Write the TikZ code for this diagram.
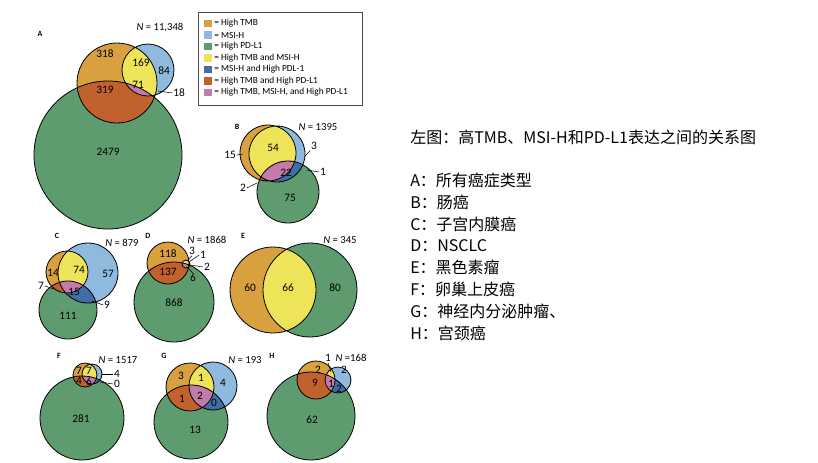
\documentclass[tikz,border=0pt]{standalone}
\usepackage{fontspec}
\setmainfont{Liberation Serif}
\newfontfamily\cjk{Noto Sans CJK SC}
\newfontfamily\lab{Carlito}
\definecolor{cT}{HTML}{D9A03F}
\definecolor{cM}{HTML}{8FB9DD}
\definecolor{cP}{HTML}{5E9C70}
\definecolor{cTM}{HTML}{EDE45A}
\definecolor{cMP}{HTML}{3E6FA6}
\definecolor{cTP}{HTML}{C0612E}
\definecolor{cTMP}{HTML}{C27BAA}
\newcommand\vennthree[9]{%
 \fill[cT] (#1,#2) circle (#3);
 \fill[cM] (#4,#5) circle (#6);
 \fill[cP] (#7,#8) circle (#9);
 \begin{scope}\clip (#4,#5) circle (#6); \fill[cMP] (#7,#8) circle (#9);\end{scope}
 \begin{scope}\clip (#1,#2) circle (#3); \fill[cTM] (#4,#5) circle (#6); \fill[cTP] (#7,#8) circle (#9);
   \clip (#4,#5) circle (#6); \fill[cTMP] (#7,#8) circle (#9);\end{scope}
 \draw[outl] (#1,#2) circle (#3) (#4,#5) circle (#6) (#7,#8) circle (#9);}
\tikzset{outl/.style={black,line width=0.6pt},
 num/.style={font=\lab\fontsize{8.5}{9}\selectfont,inner sep=0.5pt},
 pan/.style={font=\lab\bfseries\fontsize{6}{7}\selectfont,inner sep=0pt},
 nn/.style={font=\lab\fontsize{8}{9}\selectfont,inner sep=0pt},
 lead/.style={black,line width=0.4pt},
 leg/.style={font=\lab\fontsize{7}{8}\selectfont,anchor=west,inner sep=0pt},
 sw/.style={minimum width=5.5pt,minimum height=5.5pt,inner sep=0pt},
 rt/.style={font=\cjk\fontsize{12}{14}\selectfont,anchor=west,inner sep=0pt}}
\begin{document}
\begin{tikzpicture}[x=0.75pt,y=-0.75pt]
\useasboundingbox (0,0) rectangle (818,462);
\fill[white] (0,0) rectangle (818,462);
% A
\vennthree{117}{83}{40}{148}{70}{26}{108}{155}{74}
\node[pan] (pa) at (40,34) {A};
\node[nn] (na) at (160,28) {\textit{N} = 11,348};
\node[num] (a1) at (105,54) {318};
\node[num] (a2) at (141,63) {169};
\node[num] (a3) at (164,71) {84};
\node[num] (a4) at (105,90) {319};
\node[num] (a5) at (138,85) {71};
\node[num] (a6) at (179,93) {18};
\coordinate (a6e) at (158,91);
\draw[lead] (a6.west) -- (a6e);
\node[num] (a7) at (108,152) {2479};
% legend
\draw[black!70,line width=0.5pt] (198,12) rectangle (362,105);
\foreach \c/\t [count=\i] in {cT/= High TMB,cM/= MSI-H,cP/= High PD-L1,cTM/= High TMB and MSI-H,cMP/= MSI-H and High PDL-1,cTP/= High TMB and High PD-L1,cTMP/{= High TMB, MSI-H, and High PD-L1}}{
 \node[sw,fill=\c] (s\i) at (208,{12+11.5*\i}) {};
 \node[leg] (l\i) at (214,{12+11.5*\i}) {\t};}
% B
\vennthree{268}{153}{28}{277}{154}{28}{288}{192}{31}
\node[pan] (pb) at (237,127) {B};
\node[nn] (nb) at (318,127) {\textit{N} = 1395};
\node[num] (b1) at (273,148) {54};
\node[num] (b2) at (286,173) {22};
\node[num] (b3) at (290,198) {75};
\node[num] (b4) at (230,155) {15};
\coordinate (b4e) at (243,154); \draw[lead] (b4.east) -- (b4e);
\node[num] (b5) at (314,146) {3};
\coordinate (b5e) at (305,156); \draw[lead] (b5.south west) -- (b5e);
\node[num] (b6) at (323,172) {1};
\coordinate (b6e) at (307,170); \draw[lead] (b6.west) -- (b6e);
\node[num] (b7) at (243,188) {2};
\coordinate (b7e) at (257,183); \draw[lead] (b7.east) -- (b7e);
% C
\vennthree{67}{272}{21}{88}{273}{30}{68}{310}{29}
\node[pan] (pc) at (57,236) {C};
\node[nn] (nc) at (122,243) {\textit{N} = 879};
\node[num] (c1) at (79,270) {74};
\node[num] (c2) at (108,274) {57};
\node[num] (c3) at (53,273) {14};
\node[num] (c4) at (74,292) {15};
\node[num] (c5) at (68,316) {111};
\node[num] (c6) at (41,286) {7};
\coordinate (c6e) at (54,289); \draw[lead] (c6.east) -- (c6e);
\node[num] (c7) at (107,305) {9};
\coordinate (c7e) at (92,301); \draw[lead] (c7.west) -- (c7e);
% D
\vennthree{168}{263}{21}{186}{264}{4}{174}{302}{40}
\node[pan] (pd) at (148,236) {D};
\node[nn] (nd) at (207,240) {\textit{N} = 1868};
\node[num] (d1) at (168,254) {118};
\node[num] (d2) at (168,272) {137};
\node[num] (d3) at (174,303) {868};
\node[num] (d4) at (192,251) {3};
\coordinate (d4e) at (187,261); \draw[lead] (d4.south) -- (d4e);
\node[num] (d5) at (203,255) {1};
\coordinate (d5e) at (189,262); \draw[lead] (d5.west) -- (d5e);
\node[num] (d6) at (207,267) {2};
\coordinate (d6e) at (190,265); \draw[lead] (d6.west) -- (d6e);
\node[num] (d7) at (193,278) {6};
\coordinate (d7e) at (188,268); \draw[lead] (d7.north) -- (d7e);
% E
\fill[cT] (273,290) circle (43);
\fill[cP] (310,290) circle (47);
\begin{scope}\clip (273,290) circle (43); \fill[cTM] (310,290) circle (47);\end{scope}
\draw[outl] (273,290) circle (43) (310,290) circle (47);
\node[pan] (pe) at (243,236) {E};
\node[nn] (ne) at (340,240) {\textit{N} = 345};
\node[num] (e1) at (250,288) {60};
\node[num] (e2) at (288,288) {66};
\node[num] (e3) at (335,288) {80};
% F
\vennthree{85}{375}{12}{92}{374}{10}{82}{418}{42}
\node[pan] (pf) at (59,356) {F};
\node[nn] (nf) at (118,360) {\textit{N} = 1517};
\node[num] (f1) at (79,371) {7};
\node[num] (f2) at (89,371) {7};
\node[num] (f3) at (79,381) {4};
\node[num] (f4) at (89,382) {6};
\node[num] (f5) at (117,374) {4};
\coordinate (f5e) at (102,374); \draw[lead] (f5.west) -- (f5e);
\node[num] (f6) at (117,384) {0};
\coordinate (f6e) at (100,382); \draw[lead] (f6.west) -- (f6e);
\node[num] (f7) at (81,419) {281};
% G
\vennthree{190}{387}{24}{213}{386}{24}{191}{422}{37}
\node[pan] (pg) at (164,356) {G};
\node[nn] (ng) at (245,360) {\textit{N} = 193};
\node[num] (g1) at (181,376) {3};
\node[num] (g2) at (201,378) {1};
\node[num] (g3) at (223,383) {4};
\node[num] (g4) at (182,399) {1};
\node[num] (g5) at (200,396) {2};
\node[num] (g6) at (214,403) {0};
\node[num] (g7) at (195,430) {13};
% H
\vennthree{316}{380}{19}{338}{380}{13}{311}{416}{44}
\node[pan] (ph) at (272,356) {H};
\node[nn] (nh) at (351,358) {\textit{N} =168};
\node[num] (h1) at (328,358) {1};
\coordinate (h1e) at (331,372); \draw[lead] (h1.south) -- (h1e);
\node[num] (h2) at (318,370) {2};
\node[num] (h3) at (344,370) {2};
\node[num] (h4) at (315,383) {9};
\node[num] (h5) at (331,384) {1};
\node[num] (h6) at (339,389) {2};
\node[num] (h7) at (312,420) {62};
% right text
\node[rt] (t0) at (410,137) {左图：高TMB、MSI-H和PD-L1表达之间的关系图};
\foreach \t [count=\i] in {A：所有癌症类型,B：肠癌,C：子宫内膜癌,D：NSCLC,E：黑色素瘤,F：卵巢上皮癌,G：神经内分泌肿瘤、,H：宫颈癌}
 \node[rt] (t\i) at (410,{158.5+21.8*\i}) {\t};
\end{tikzpicture}
\end{document}
